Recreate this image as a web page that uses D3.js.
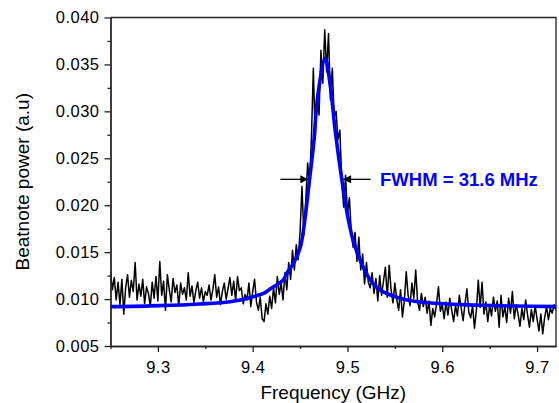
<!DOCTYPE html>
<html>
<head>
<meta charset="utf-8">
<script src="https://cdn.jsdelivr.net/npm/d3@7"></script>
<style>
  body { margin: 0; background: #fff; }
  svg text { font-family: Arial, "Liberation Sans", sans-serif; }
</style>
</head>
<body>
<div id="vis"></div>
<script>
let W = 559;
let H = 403;

// Measured beatnote spectrum: first frequency, step (GHz) and power values (a.u)
let freqStart = 9.25;
let freqStep = 0.002;
let power = [
  0.0129, 0.0110, 0.0123, 0.0099, 0.0118, 0.0094, 0.0121, 0.0084, 0.0112, 0.0126,
  0.0102, 0.0120, 0.0108, 0.0139, 0.0099, 0.0116, 0.0103, 0.0121, 0.0095, 0.0113,
  0.0106, 0.0092, 0.0118, 0.0101, 0.0124, 0.0098, 0.0140, 0.0104, 0.0119, 0.0088,
  0.0126, 0.0110, 0.0097, 0.0122, 0.0107, 0.0115, 0.0093, 0.0117, 0.0105, 0.0112,
  0.0099, 0.0128, 0.0103, 0.0114, 0.0096, 0.0109, 0.0118, 0.0101, 0.0112, 0.0097,
  0.0108, 0.0104, 0.0115, 0.0099, 0.0110, 0.0126, 0.0102, 0.0113, 0.0094, 0.0108,
  0.0117, 0.0100, 0.0111, 0.0123, 0.0104, 0.0119, 0.0098, 0.0124, 0.0109, 0.0112,
  0.0095, 0.0105, 0.0099, 0.0117, 0.0092, 0.0108, 0.0121, 0.0097, 0.0088, 0.0102,
  0.0079, 0.0076, 0.0095, 0.0084, 0.0103, 0.0090, 0.0112, 0.0096, 0.0124, 0.0105,
  0.0117, 0.0099, 0.0128, 0.0110, 0.0139, 0.0121, 0.0152, 0.0131, 0.0158, 0.0142,
  0.0172, 0.0220, 0.0168, 0.0205, 0.0245, 0.0221, 0.0273, 0.0346, 0.0270, 0.0318,
  0.0296, 0.0365, 0.0330, 0.0387, 0.0342, 0.0383, 0.0312, 0.0346, 0.0294, 0.0300,
  0.0270, 0.0280, 0.0225, 0.0198, 0.0232, 0.0190, 0.0208, 0.0172, 0.0155, 0.0171,
  0.0140, 0.0166, 0.0131, 0.0148, 0.0116, 0.0139, 0.0118, 0.0112, 0.0128, 0.0106,
  0.0122, 0.0098, 0.0125, 0.0104, 0.0119, 0.0134, 0.0102, 0.0136, 0.0110, 0.0096,
  0.0117, 0.0100, 0.0088, 0.0110, 0.0081, 0.0098, 0.0129, 0.0104, 0.0093, 0.0117,
  0.0101, 0.0131, 0.0097, 0.0088, 0.0106, 0.0092, 0.0102, 0.0085, 0.0098, 0.0072,
  0.0090, 0.0081, 0.0095, 0.0113, 0.0087, 0.0094, 0.0079, 0.0097, 0.0083, 0.0101,
  0.0088, 0.0076, 0.0093, 0.0082, 0.0104, 0.0090, 0.0077, 0.0095, 0.0111, 0.0086,
  0.0080, 0.0093, 0.0069, 0.0088, 0.0120, 0.0091, 0.0118, 0.0084, 0.0097, 0.0076,
  0.0093, 0.0082, 0.0102, 0.0087, 0.0098, 0.0070, 0.0104, 0.0081, 0.0092, 0.0075,
  0.0101, 0.0085, 0.0108, 0.0079, 0.0094, 0.0084, 0.0071, 0.0090, 0.0078, 0.0099,
  0.0083, 0.0070, 0.0089, 0.0076, 0.0093, 0.0079, 0.0066, 0.0084, 0.0063, 0.0080,
  0.0092, 0.0078, 0.0090, 0.0085, 0.0094, 0.0088
];

// Lorentzian fit curve
let fitFreq = [9.250, 9.302, 9.344, 9.376, 9.397, 9.413, 9.418, 9.432, 9.436, 9.443,
  9.448, 9.451, 9.455, 9.460, 9.464, 9.469, 9.4765, 9.482, 9.487, 9.494,
  9.501, 9.508, 9.524, 9.534, 9.552, 9.569, 9.605, 9.640, 9.675, 9.720];
let fitPower = [0.00919, 0.00930, 0.00948, 0.00972, 0.01015, 0.01068, 0.01105, 0.01200, 0.01275, 0.01381,
  0.01488, 0.01580, 0.01842, 0.02276, 0.02623, 0.03192, 0.03565, 0.03263, 0.02801, 0.02276,
  0.01842, 0.01558, 0.01203, 0.01100, 0.01020, 0.00980, 0.00948, 0.00934, 0.00926, 0.00919];

// FWHM annotation
let halfMax = 0.02276;
let arrowLeft = [9.4292, 9.4587];   // tail, tip
let arrowRight = [9.5245, 9.4954];  // tail, tip
let fwhmLabel = 'FWHM = 31.6 MHz';
let fwhmLabelFreq = 9.5344;

// Axis ticks
let xTicks = [9.3, 9.4, 9.5, 9.6, 9.7];
let xMinor = [9.25, 9.35, 9.45, 9.55, 9.65];
let yTicks = [0.005, 0.010, 0.015, 0.020, 0.025, 0.030, 0.035, 0.040];
let yMinor = [0.0075, 0.0125, 0.0175, 0.0225, 0.0275, 0.0325, 0.0375];

let L = 110.5, R = 556, T = 17.5, B = 346;

let svg = d3.select('#vis').append('svg').attr('width', W).attr('height', H);

let x = d3.scaleLinear().domain([9.25, 9.72]).range([L, R]);
let y = d3.scaleLinear().domain([0.005, 0.040]).range([B, T]);

svg.append('clipPath').attr('id', 'clip')
    .append('rect').attr('x', L).attr('y', T).attr('width', R - L).attr('height', B - T);

let plot = svg.append('g').attr('clip-path', 'url(#clip)');

// Measured trace
plot.append('path')
    .datum(power)
    .attr('fill', 'none')
    .attr('stroke', '#000')
    .attr('stroke-width', 1.5)
    .attr('stroke-linejoin', 'round')
    .attr('d', d3.line().x((d, i) => x(freqStart + i * freqStep)).y(d => y(d)));

// Fit
plot.append('path')
    .datum(fitFreq.map((f, i) => [f, fitPower[i]]))
    .attr('fill', 'none')
    .attr('stroke', '#0000ff')
    .attr('stroke-width', 3.6)
    .attr('d', d3.line().x(d => x(d[0])).y(d => y(d[1])).curve(d3.curveCatmullRom));

// Arrows
let defs = svg.append('defs');
defs.append('marker').attr('id', 'head')
    .attr('viewBox', '0 0 10 10').attr('refX', 10).attr('refY', 5)
    .attr('markerWidth', 10).attr('markerHeight', 8).attr('markerUnits', 'userSpaceOnUse')
    .attr('orient', 'auto')
    .append('path').attr('d', 'M0,0L10,5L0,10Z').attr('fill', '#000');

[arrowLeft, arrowRight].forEach(a => {
  svg.append('line')
      .attr('x1', x(a[0])).attr('x2', x(a[1]))
      .attr('y1', y(halfMax)).attr('y2', y(halfMax))
      .attr('stroke', '#000').attr('stroke-width', 1.3)
      .attr('marker-end', 'url(#head)');
});

svg.append('text')
    .attr('x', x(fwhmLabelFreq)).attr('y', y(halfMax))
    .attr('dy', '0.36em')
    .attr('fill', '#0000ff')
    .attr('font-weight', 'bold')
    .attr('font-size', '18.5px')
    .text(fwhmLabel);

// Axes
svg.append('g').attr('transform', `translate(${L},0)`)
    .call(d3.axisLeft(y).tickValues(yTicks).tickFormat(d3.format('.3f')).tickSize(6).tickPadding(5).tickSizeOuter(0));
svg.append('g').attr('transform', `translate(${L},0)`)
    .call(d3.axisLeft(y).tickValues(yMinor).tickFormat('').tickSize(3).tickSizeOuter(0));

svg.append('g').attr('transform', `translate(0,${B})`)
    .call(d3.axisBottom(x).tickValues(xTicks).tickFormat(d3.format('.1f')).tickSize(6).tickPadding(9).tickSizeOuter(0));
svg.append('g').attr('transform', `translate(0,${B})`)
    .call(d3.axisBottom(x).tickValues(xMinor).tickFormat('').tickSize(3).tickSizeOuter(0));

svg.selectAll('.tick text')
    .attr('font-size', '16.5px')
    .attr('font-family', 'Arial, "Liberation Sans", sans-serif')
    .attr('fill', '#000')
    .style('letter-spacing', '0.5px');
svg.selectAll('.domain, .tick line').attr('stroke', '#222').attr('stroke-width', 1.3);

// Top and right frame
svg.append('path')
    .attr('d', `M${L},${T}H${R}V${B}`)
    .attr('fill', 'none').attr('stroke', '#222').attr('stroke-width', 1.3);

// Axis titles
svg.append('text')
    .attr('x', (L + R) / 2).attr('y', 399)
    .attr('text-anchor', 'middle')
    .attr('font-size', '19px')
    .text('Frequency (GHz)');

svg.append('text')
    .attr('transform', `translate(29,${(T + B) / 2}) rotate(-90)`)
    .attr('text-anchor', 'middle')
    .attr('font-size', '19px')
    .text('Beatnote power (a.u)');
</script>
</body>
</html>
